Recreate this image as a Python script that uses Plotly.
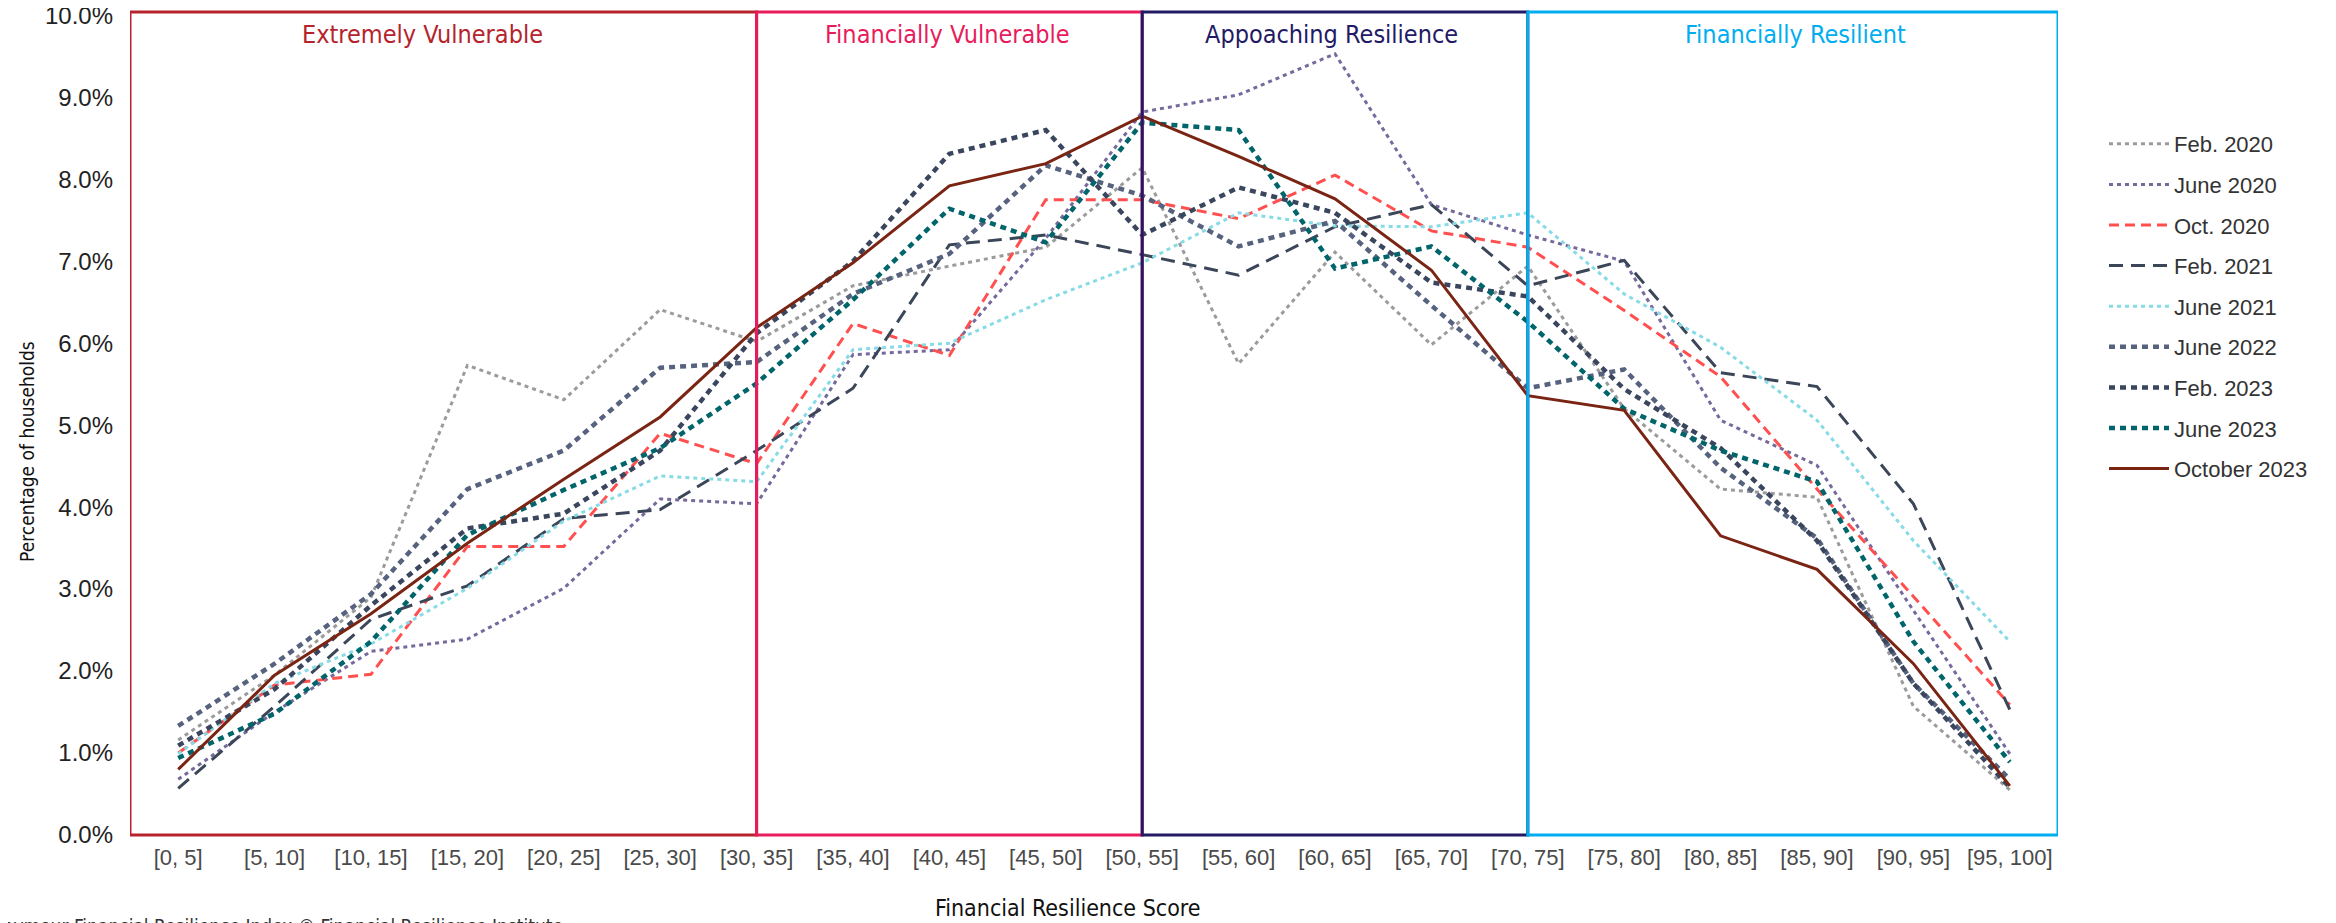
import plotly.graph_objects as go

categories = ["[0, 5]", "[5, 10]", "[10, 15]", "[15, 20]", "[20, 25]", "[25, 30]", "[30, 35]",
              "[35, 40]", "[40, 45]", "[45, 50]", "[50, 55]", "[55, 60]", "[60, 65]", "[65, 70]",
              "[70, 75]", "[75, 80]", "[80, 85]", "[85, 90]", "[90, 95]", "[95, 100]"]

feb_2020 = [1.16, 1.95, 2.9, 5.73, 5.31, 6.41, 6.02, 6.7, 6.94, 7.17, 8.14, 5.75, 7.11, 5.98, 6.94, 5.2, 4.22, 4.12, 1.57, 0.55]
june_2020 = [0.68, 1.5, 2.24, 2.39, 3.01, 4.10, 4.04, 5.86, 5.92, 7.28, 8.82, 9.03, 9.53, 7.69, 7.32, 7.0, 5.06, 4.51, 2.74, 0.99]
oct_2020 = [1.0, 1.83, 1.96, 3.52, 3.52, 4.9, 4.53, 6.24, 5.85, 7.75, 7.75, 7.52, 8.05, 7.37, 7.17, 6.4, 5.59, 4.22, 2.91, 1.59]
feb_2021 = [0.57, 1.57, 2.63, 3.04, 3.86, 3.97, 4.69, 5.45, 7.2, 7.32, 7.08, 6.83, 7.42, 7.69, 6.70, 7.01, 5.64, 5.47, 4.04, 1.53]
june_2021 = [0.99, 1.85, 2.33, 3.01, 3.83, 4.38, 4.31, 5.92, 6.0, 6.53, 6.98, 7.59, 7.43, 7.42, 7.59, 6.6, 5.95, 5.06, 3.59, 2.36]
june_2022 = [1.33, 2.09, 2.94, 4.22, 4.69, 5.70, 5.77, 6.6, 7.09, 8.17, 7.8, 7.18, 7.49, 6.46, 5.45, 5.68, 4.48, 3.62, 1.85, 0.68]
feb_2023 = [1.09, 1.78, 2.8, 3.74, 3.92, 4.69, 6.12, 7.0, 8.31, 8.6, 7.32, 7.9, 7.59, 6.74, 6.57, 5.44, 4.72, 3.59, 1.85, 0.58]
june_2023 = [0.94, 1.48, 2.36, 3.66, 4.21, 4.72, 5.51, 6.53, 7.64, 7.23, 8.69, 8.6, 6.91, 7.18, 6.26, 5.2, 4.69, 4.31, 2.36, 0.89]
oct_2023 = [0.80, 1.95, 2.7, 3.56, 4.34, 5.10, 6.19, 6.98, 7.92, 8.19, 8.77, 8.28, 7.76, 6.89, 5.36, 5.18, 3.65, 3.24, 2.09, 0.6]

series_names = ["Feb. 2020", "June 2020", "Oct. 2020", "Feb. 2021", "June 2021",
                "June 2022", "Feb. 2023", "June 2023", "October 2023"]
series_values = [feb_2020, june_2020, oct_2020, feb_2021, june_2021,
                 june_2022, feb_2023, june_2023, oct_2023]
series_colors = ["#9b9b9b", "#76699c", "#ff4f4f", "#3b4659", "#86dbe6",
                 "#56627e", "#3a455e", "#00656b", "#7a2413"]
series_dash = ["4px,4px", "4px,4px", "10px,6px", "14px,8px", "4px,4px",
               "6px,5px", "6px,5px", "6px,5px", "solid"]
series_width = [3, 3, 3, 3, 3, 4.5, 4.5, 4.5, 3]

zone_names = ["Extremely Vulnerable", "Financially Vulnerable", "Appoaching Resilience", "Financially Resilient"]
zone_bounds = [(-0.5, 6), (6, 10), (10, 14), (14, 19.5)]
zone_colors = ["#b5232c", "#e81b5c", "#231a66", "#00aeef"]
zone_label_x = [2.53, 7.98, 11.96, 16.78]

y_ticks = list(range(0, 11))
y_ticktext = [f"{v:.1f}%" for v in y_ticks]

NARROW = "Liberation Sans Narrow, DejaVu Sans Condensed, Arial Narrow, sans-serif"
SANS = "Liberation Sans, Arial, Helvetica, sans-serif"

# plot area in the reference (page pixels): left 130, right 2058, top 12, bottom 835
PL, PR, PT, PB = 130, 2058, 12, 835
OFF = 8  # default page body margin
PW, PH = PR - PL, PB - PT

def px_x(x):
    return (x - PL) / PW

def px_y(y):
    return (PB - y) / PH

fig = go.Figure()
for i, (name, vals) in enumerate(zip(series_names, series_values)):
    fig.add_trace(go.Scatter(
        x=categories, y=vals, name=name, mode="lines",
        legendgroup=name,
        line=dict(color=series_colors[i], width=series_width[i], dash=series_dash[i]),
    ))

shapes = []
annotations = []
for (x0, x1), col, nm, lx in zip(zone_bounds, zone_colors, zone_names, zone_label_x):
    shapes.append(dict(type="rect", xref="x", yref="paper", x0=x0, x1=x1, y0=0, y1=1,
                       line=dict(color=col, width=3), fillcolor="rgba(0,0,0,0)", layer="above"))
    annotations.append(dict(text=nm, xref="x", yref="paper", x=lx, y=px_y(34), showarrow=False,
                            xanchor="center", yanchor="middle",
                            font=dict(family=NARROW, size=25, color=col)))

annotations.append(dict(text="Percentage of households", xref="paper", yref="paper",
                        x=px_x(27), y=px_y(452), textangle=-90, showarrow=False,
                        xanchor="center", yanchor="middle",
                        font=dict(family=NARROW, size=19, color="#111111")))
annotations.append(dict(text="Financial Resilience Score", xref="paper", yref="paper",
                        x=px_x(1068), y=px_y(908), showarrow=False,
                        xanchor="center", yanchor="middle",
                        font=dict(family=NARROW, size=23, color="#111111")))
annotations.append(dict(text="Seymour Financial Resilience Index © Financial Resilience Institute",
                        xref="paper", yref="paper",
                        x=px_x(565), y=px_y(926), showarrow=False,
                        xanchor="right", yanchor="middle",
                        font=dict(family=NARROW, size=19, color="#333333")))

fig.update_layout(
    width=2336, height=923,
    margin=dict(l=PL - OFF, r=2336 - (PR - OFF), t=PT - OFF, b=923 - (PB - OFF), autoexpand=False),
    paper_bgcolor="white", plot_bgcolor="white",
    shapes=shapes, annotations=annotations,
    legend=dict(x=px_x(2104), y=px_y(123), xanchor="left", yanchor="top",
                font=dict(family=SANS, size=22, color="#333333"),
                tracegroupgap=9, itemwidth=60, bgcolor="rgba(0,0,0,0)"),
    xaxis=dict(type="category", range=[-0.5, 19.5], showgrid=False, zeroline=False,
               showline=False, ticks="", ticklabelstandoff=7,
               tickfont=dict(family=SANS, size=22, color="#4a4a4a"),
               automargin=False),
    yaxis=dict(range=[0, 10.04], tickmode="array", tickvals=y_ticks, ticktext=y_ticktext,
               showgrid=False, zeroline=False, showline=False, ticks="",
               ticklabelstandoff=16, ticklabeloverflow="allow",
               tickfont=dict(family=SANS, size=24, color="#222222"), automargin=False),
)

fig.write_html("out.html")
